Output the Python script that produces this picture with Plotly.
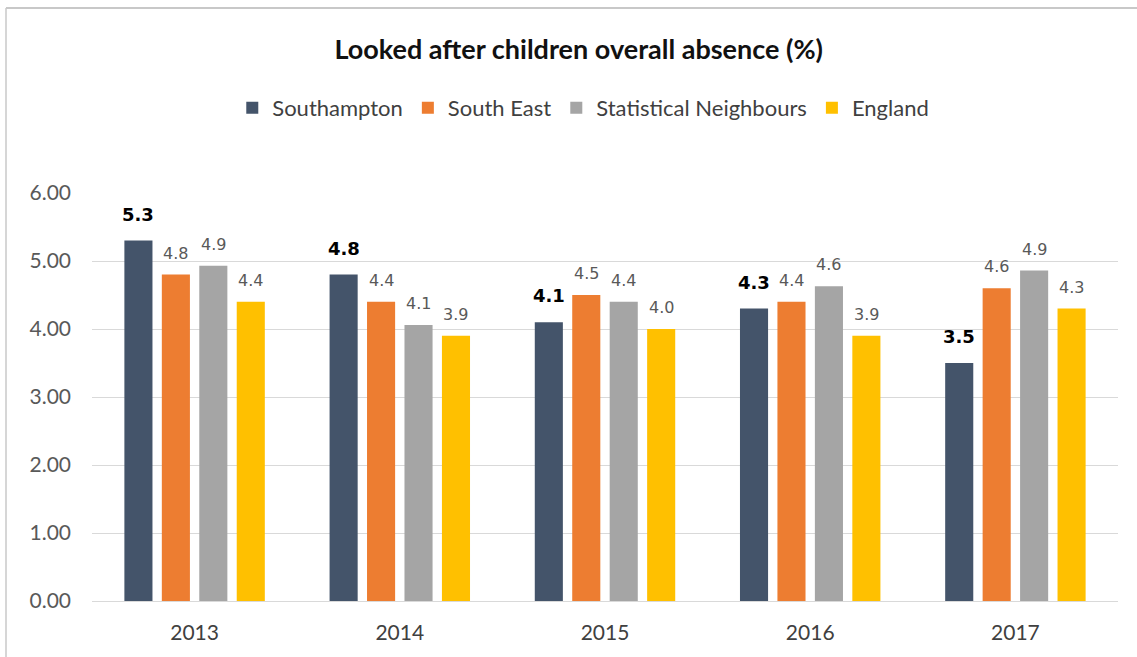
import plotly.graph_objects as go

years = ["2013", "2014", "2015", "2016", "2017"]
series_names = ["Southampton", "South East", "Statistical Neighbours", "England"]
southampton = [5.3, 4.8, 4.1, 4.3, 3.5]
south_east = [4.8, 4.4, 4.5, 4.4, 4.6]
stat_neighbours = [4.93, 4.06, 4.4, 4.63, 4.86]
england = [4.4, 3.9, 4.0, 3.9, 4.3]
colors = ["#44546A", "#ED7D31", "#A5A5A5", "#FFC000"]
y_ticks = [0, 1, 2, 3, 4, 5, 6]

all_values = [southampton, south_east, stat_neighbours, england]

W, H = 1137, 657
ml, mr, mt, mb = 92, 19, 193, 56
bargap = 0.27
bargroupgap = 0.25

fig = go.Figure()
for name, vals, col in zip(series_names, all_values, colors):
    fig.add_trace(go.Bar(
        x=years, y=vals, name=name,
        marker=dict(color=col, line=dict(width=0)),
        hoverinfo="x+y+name",
    ))

# data labels as annotations (x = category index on the category axis)
plot_w = W - ml - mr
cat_w = plot_w / len(years)
slot = cat_w * (1 - bargap) / len(series_names)
annotations = []
for i, vals in enumerate(all_values):
    for j, v in enumerate(vals):
        bold = (i == 0)
        annotations.append(dict(
            x=j, y=v, xref="x", yref="y",
            text=f"{v:.1f}",
            showarrow=False,
            xshift=(i - 1.5) * slot,
            yshift=14 if bold else 10,
            yanchor="bottom",
            font=dict(family="DejaVu Sans", size=18 if bold else 16,
                      color="#000000" if bold else "#595959",
                      weight="bold" if bold else "normal"),
        ))

fig.update_layout(
    width=W, height=H,
    margin=dict(l=ml, r=mr, t=mt, b=mb),
    paper_bgcolor="white", plot_bgcolor="white",
    barmode="group", bargap=bargap, bargroupgap=bargroupgap,
    title=dict(text="<b>Looked after children overall absence (%)</b>",
               x=0.509, xref="container", xanchor="center",
               y=1 - 50 / H, yref="container", yanchor="middle",
               font=dict(family="Lato", size=27, color="#111111")),
    legend=dict(orientation="h", x=0.513, xref="container", xanchor="center",
                y=1 - 108 / H, yref="container", yanchor="middle",
                font=dict(family="Lato", size=22, color="#404040"),
                itemwidth=30, traceorder="normal"),
    font=dict(family="Lato", color="#595959"),
    xaxis=dict(type="category", showgrid=False, showline=True, linecolor="#D9D9D9", linewidth=1,
               range=[-0.5, len(years) - 0.5], autorange=False,
               tickfont=dict(family="Lato", size=21, color="#404040"),
               ticks="", ticklabelstandoff=13),
    yaxis=dict(range=[0, 6], tickvals=y_ticks, tickformat=".2f",
               showgrid=True, gridcolor="#D9D9D9", gridwidth=1,
               zeroline=False, showline=False, ticks="",
               tickfont=dict(family="Lato", size=21, color="#595959"),
               ticklabelstandoff=20),
    annotations=annotations,
    shapes=[
        dict(type="line", xref="paper", yref="paper",
             x0=-(ml - 6) / plot_w, x1=1 + mr / plot_w,
             y0=1 + (mt - 8) / (H - mt - mb), y1=1 + (mt - 8) / (H - mt - mb),
             line=dict(color="#C8C8C8", width=2)),
        dict(type="line", xref="paper", yref="paper",
             x0=-(ml - 6) / plot_w, x1=-(ml - 6) / plot_w,
             y0=-mb / (H - mt - mb), y1=1 + (mt - 8) / (H - mt - mb),
             line=dict(color="#C8C8C8", width=1.5)),
    ],
)

fig.write_html("out.html")
